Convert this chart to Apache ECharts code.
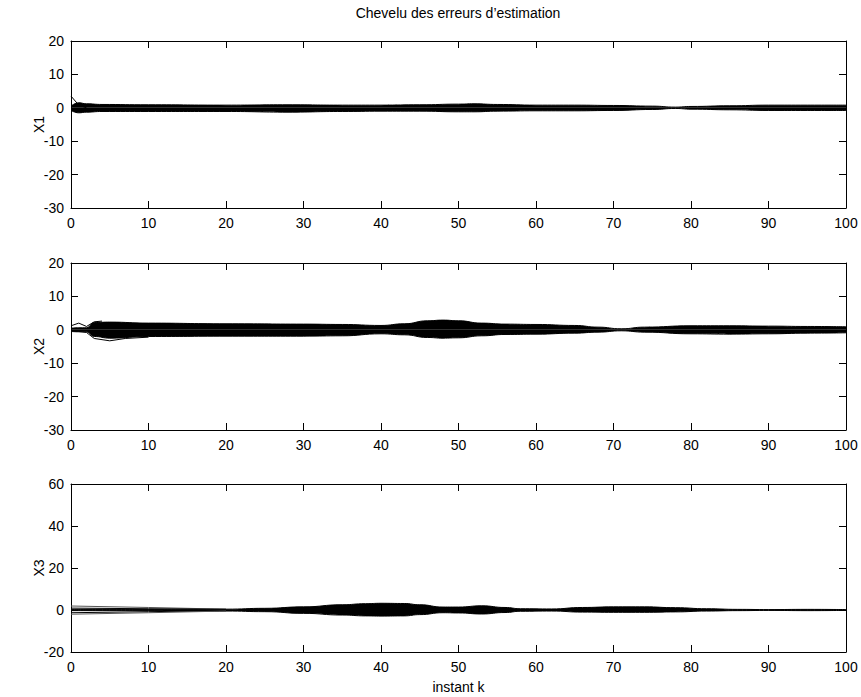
<!DOCTYPE html>
<html>
<head>
<meta charset="utf-8">
<script src="https://cdn.jsdelivr.net/npm/echarts@6/dist/echarts.min.js"></script>
<style>html,body{margin:0;padding:0;background:#fff}#c{width:861px;height:697px}</style>
</head>
<body>
<div id="c"></div>
<script>
// ---- data ----
const titleText = 'Chevelu des erreurs d\u2019estimation';
const xName = 'instant k';
const yNames = ['X1', 'X2', 'X3'];
const kTicks = [0, 10, 20, 30, 40, 50, 60, 70, 80, 90, 100];
const yTicks12 = [-30, -20, -10, 0, 10, 20];
const yTicks3 = [-20, 0, 20, 40, 60];

// X1 envelope of the bundle of error trajectories
const x1K = [0, 1, 2, 4, 10, 20, 28, 35, 40, 45, 50, 52, 55, 60, 65, 70, 75, 78, 80, 85, 90, 95, 100];
const x1Upper = [0.5, 1.5, 1.2, 1.0, 0.9, 0.8, 0.9, 0.8, 0.8, 0.9, 1.1, 1.2, 1.0, 0.8, 0.8, 0.7, 0.5, 0.2, 0.4, 0.6, 0.8, 0.8, 0.8];
const x1Lower = [-0.8, -1.5, -1.3, -1.1, -1.1, -1.1, -1.3, -1.1, -1.0, -1.0, -1.2, -1.2, -1.0, -0.9, -0.9, -0.8, -0.5, -0.2, -0.4, -0.6, -0.8, -0.8, -0.8];
const x1OutK = [0, 1, 2];
const x1OutV = [3.5, 0.8, 0];

// X2
const x2K = [0, 1, 2, 3, 5, 10, 20, 30, 35, 40, 43, 46, 48, 50, 53, 56, 60, 65, 68, 71, 74, 80, 85, 90, 95, 100];
const x2Upper = [0.5, 0.6, 0.6, 2.2, 2.3, 2.0, 1.8, 1.7, 1.6, 1.3, 1.8, 2.7, 2.9, 2.7, 2.0, 1.7, 1.6, 1.3, 0.8, 0.3, 0.8, 1.2, 1.2, 1.1, 1.0, 0.9];
const x2Lower = [-0.5, -0.6, -0.6, -2.0, -2.5, -2.0, -1.9, -1.9, -1.8, -1.2, -1.5, -2.3, -2.5, -2.4, -1.8, -1.4, -1.3, -1.0, -0.7, -0.3, -0.7, -1.2, -1.3, -1.2, -1.0, -0.9];
const x2OutUpK = [0, 1, 2, 3, 4];
const x2OutUpV = [1.2, 2.0, 1.0, 2.4, 2.6];
const x2OutLoK = [0, 1, 2, 3, 5, 7, 10];
const x2OutLoV = [-0.3, -0.5, -0.8, -2.6, -3.3, -2.6, -2.2];

// X3
const x3K = [0, 5, 10, 15, 20, 25, 30, 35, 38, 40, 43, 45, 48, 50, 53, 56, 58, 62, 66, 70, 74, 78, 82, 86, 90, 95, 100];
const x3Upper = [0.3, 0.3, 0.3, 0.4, 0.4, 0.8, 1.5, 2.5, 3.0, 3.2, 3.1, 2.5, 1.4, 1.4, 2.0, 1.2, 0.6, 0.5, 1.2, 1.5, 1.5, 1.1, 0.6, 0.3, 0.2, 0.3, 0.2];
const x3Lower = [-0.3, -0.3, -0.3, -0.5, -0.5, -0.8, -1.6, -2.4, -2.8, -2.9, -2.8, -2.2, -1.3, -1.4, -1.9, -1.2, -0.6, -0.5, -1.0, -1.1, -1.1, -0.9, -0.5, -0.3, -0.2, -0.3, -0.2];
const x3OutK = [0, 10, 20];
const x3Out1 = [1.9, 1.2, 0.4];
const x3Out2 = [0.9, 0.6, 0.3];
const x3Out3 = [-1.3, -0.8, -0.3];
const x3Out4 = [-2.0, -1.3, -0.5];

// ---- chart ----
const FONT = 'Liberation Sans, Arial, Helvetica, sans-serif';
const FS = 14;
const pairs = (ks, vs) => ks.map((k, i) => [k, vs[i]]);

const grids = [
  { left: 71, top: 41, width: 775, height: 167 },
  { left: 71, top: 263, width: 775, height: 167 },
  { left: 71, top: 484, width: 775, height: 168 }
];
const yRanges = [
  { ticks: yTicks12 }, { ticks: yTicks12 }, { ticks: yTicks3 }
];

const xAxes = [], yAxes = [];
const tickStyle = { show: true, inside: true, length: 7, lineStyle: { color: '#000', width: 1 } };
const lineStyleAx = { show: true, onZero: false, lineStyle: { color: '#000', width: 1 } };
grids.forEach((g, i) => {
  const yt = yRanges[i].ticks;
  const ymin = yt[0], ymax = yt[yt.length - 1], yint = yt[1] - yt[0];
  xAxes.push({
    type: 'value', gridIndex: i, position: 'bottom', min: kTicks[0], max: kTicks[kTicks.length - 1],
    interval: kTicks[1] - kTicks[0], axisLine: lineStyleAx, axisTick: tickStyle, splitLine: { show: false },
    axisLabel: { color: '#000', fontFamily: FONT, fontSize: FS, margin: 8 },
    name: i === 2 ? xName : '', nameLocation: 'middle', nameGap: 28, nameMoveOverlap: false,
    nameTextStyle: { color: '#000', fontFamily: FONT, fontSize: FS }
  });
  xAxes.push({
    type: 'value', gridIndex: i, position: 'top', min: kTicks[0], max: kTicks[kTicks.length - 1],
    interval: kTicks[1] - kTicks[0], axisLine: lineStyleAx, axisTick: tickStyle, splitLine: { show: false },
    axisLabel: { show: false }
  });
  yAxes.push({
    type: 'value', gridIndex: i, position: 'left', min: ymin, max: ymax, interval: yint,
    axisLine: lineStyleAx, axisTick: tickStyle, splitLine: { show: false },
    axisLabel: { color: '#000', fontFamily: FONT, fontSize: FS, margin: 7 },
    name: yNames[i], nameLocation: 'middle', nameGap: 25, nameMoveOverlap: false,
    nameTextStyle: { color: '#000', fontFamily: FONT, fontSize: FS }
  });
  yAxes.push({
    type: 'value', gridIndex: i, position: 'right', min: ymin, max: ymax, interval: yint,
    axisLine: lineStyleAx, axisTick: tickStyle, splitLine: { show: false },
    axisLabel: { show: false }
  });
});

function band(i, ks, vs) {
  return {
    type: 'line', xAxisIndex: 2 * i, yAxisIndex: 2 * i, data: pairs(ks, vs),
    showSymbol: false, symbol: 'none', smooth: 0.5, smoothMonotone: 'x',
    lineStyle: { color: '#000', width: 1 },
    areaStyle: { color: '#000', opacity: 1 }, z: 2
  };
}
function hair(i, ks, vs, color) {
  return {
    type: 'line', xAxisIndex: 2 * i, yAxisIndex: 2 * i, data: pairs(ks, vs),
    showSymbol: false, symbol: 'none', smooth: false,
    lineStyle: { color: color || '#000', width: 1 }, z: 3
  };
}

const series = [
  band(0, x1K, x1Upper), band(0, x1K, x1Lower), hair(0, x1OutK, x1OutV),
  band(1, x2K, x2Upper), band(1, x2K, x2Lower), hair(1, x2OutUpK, x2OutUpV), hair(1, x2OutLoK, x2OutLoV),
  band(2, x3K, x3Upper), band(2, x3K, x3Lower),
  hair(2, x3OutK, x3Out1, '#555'), hair(2, x3OutK, x3Out2), hair(2, x3OutK, x3Out3), hair(2, x3OutK, x3Out4, '#555')
];

const chart = echarts.init(document.getElementById('c'), null, { renderer: 'svg' });
chart.setOption({
  animation: false,
  backgroundColor: '#fff',
  grid: grids,
  xAxis: xAxes,
  yAxis: yAxes,
  series: series,
  graphic: [{
    type: 'text', x: 458, y: 6,
    style: { text: titleText, textAlign: 'center', fill: '#000', font: FS + 'px ' + FONT }
  }]
});
</script>
</body>
</html>
